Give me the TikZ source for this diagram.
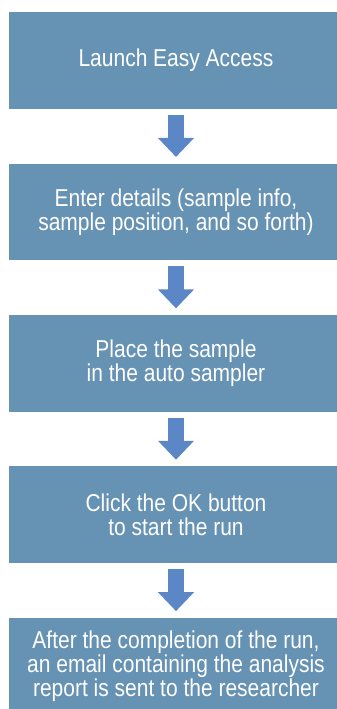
\documentclass[tikz,border=0pt]{standalone}
\usepackage{fontspec}
\setmainfont{Liberation Sans}[FakeStretch=0.86]
\usetikzlibrary{arrows.meta,positioning}
\definecolor{stepblue}{HTML}{6692B3}
\definecolor{arrowblue}{HTML}{5B87C7}

\begin{document}
\begin{tikzpicture}[
              node distance=54.5bp,
              stepbox/.style={rectangle, fill=stepblue, text=white,
                minimum width=334bp, minimum height=96.5bp, inner sep=0pt,
                align=center, font=\fontsize{24.5}{23.8}\selectfont},
              flow/.style={draw=arrowblue, line width=16bp,
                -{Triangle[width=35bp,length=19bp]},
                shorten <=6bp, shorten >=6.5bp}
            ]
            \useasboundingbox (0,0) rectangle (337bp,-709bp);

            % Step 1: start the software
            \node[stepbox] (launch) at (176bp,-60.5bp) {Launch Easy Access};
            % Step 2: details
            \node[stepbox, below=of launch] (details)
              {Enter details (sample info,\\sample position, and so forth)};
            % Step 3: sample
            \node[stepbox, below=of details] (place)
              {Place the sample\\ in the auto sampler};
            % Step 4: run
            \node[stepbox, below=of place] (click)
              {Click the OK button\\ to start the run};
            % Step 5: report
            \node[stepbox, below=of click] (email)
              {After the completion of the run,\\an email containing the analysis\\report is sent to the researcher};

            % Block arrows between steps
            \foreach \from/\to in {launch/details, details/place, place/click, click/email}
              \draw[flow] (\from) -- (\to);

            \end{tikzpicture}
\end{document}
